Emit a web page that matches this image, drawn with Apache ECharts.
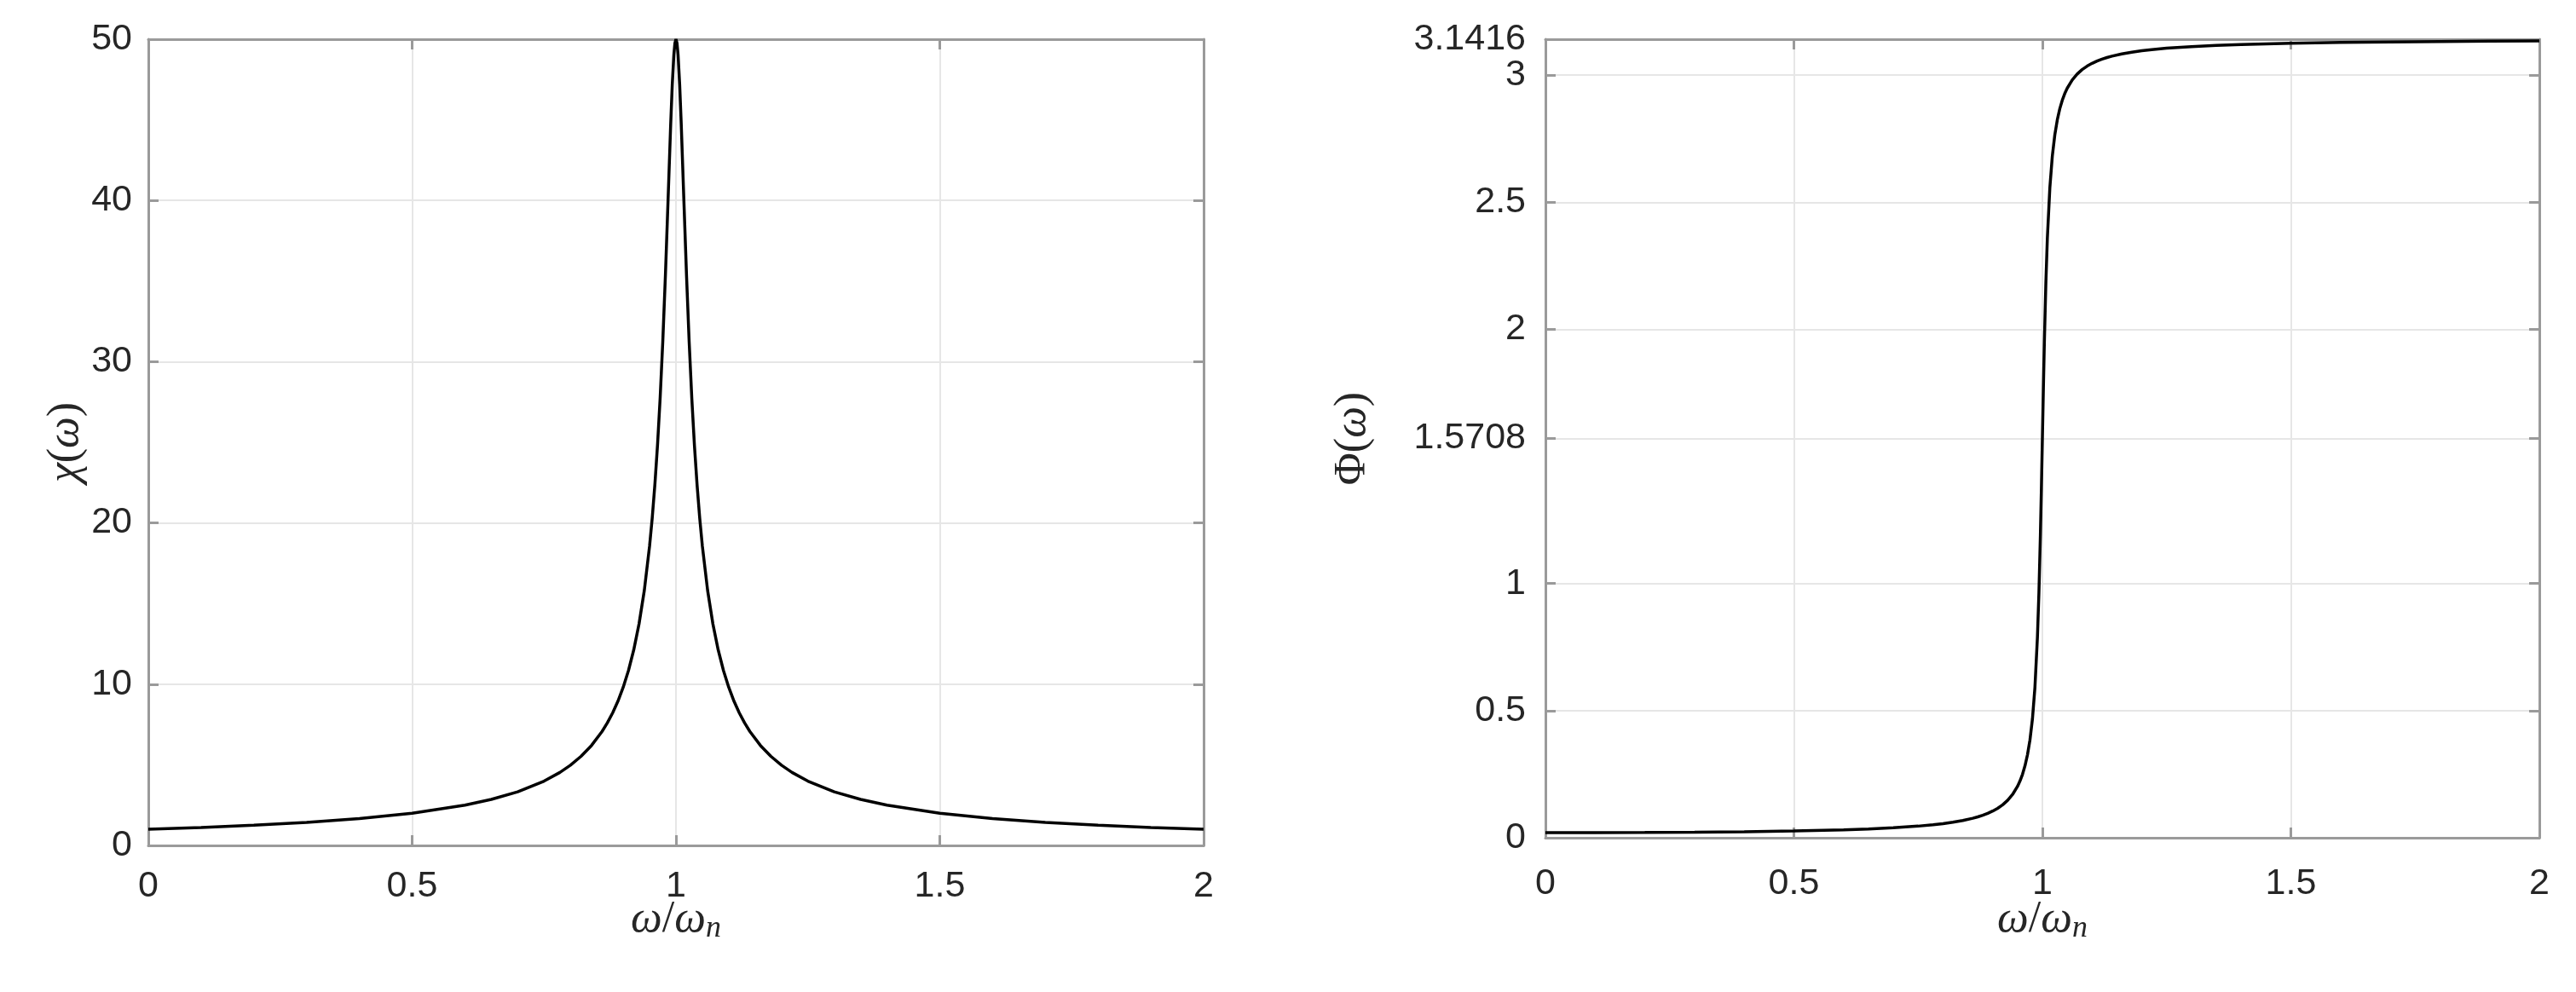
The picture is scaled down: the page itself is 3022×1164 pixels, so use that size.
<!DOCTYPE html>
<html>
<head>
<meta charset="utf-8">
<script src="https://cdn.jsdelivr.net/npm/echarts@6/dist/echarts.min.js"></script>
<style>
html,body{margin:0;padding:0;background:#fff;}
#c{width:3022px;height:1164px;}
</style>
</head>
<body>
<div id="c"></div>
<script>
// frequency ratio omega/omega_n
const ratio = [0, 0.1, 0.2, 0.3, 0.4, 0.5, 0.6, 0.65, 0.7, 0.75, 0.78, 0.8, 0.82, 0.84, 0.86, 0.87, 0.88, 0.89, 0.9, 0.91, 0.92, 0.93, 0.94, 0.95, 0.955, 0.96, 0.965, 0.97, 0.975, 0.98, 0.985, 0.99, 0.993, 0.996, 0.998,
  1,
  1.002, 1.004, 1.007, 1.01, 1.015, 1.02, 1.025, 1.03, 1.035, 1.04, 1.045, 1.05, 1.06, 1.07, 1.08, 1.09, 1.1, 1.11, 1.12, 1.13, 1.14, 1.16, 1.18, 1.2, 1.22, 1.25, 1.3, 1.35, 1.4, 1.5, 1.6, 1.7, 1.8, 1.9, 2.0];
// amplitude chi(omega)
const chi = [0.9998, 1.1108, 1.2496, 1.4280, 1.6657, 1.9984, 2.4969, 2.8525, 3.3260, 3.9873, 4.5268, 4.9752, 5.5216, 6.2017, 7.0711, 7.6029, 8.2199, 8.9443, 9.8058, 10.847, 12.127, 13.736, 15.811, 18.570, 20.307, 22.361, 24.807, 27.735, 31.235, 35.355, 40.0, 44.721, 47.193, 49.029, 49.752,
  50,
  49.752, 49.029, 47.193, 44.721, 40.0, 35.355, 31.235, 27.735, 24.807, 22.361, 20.307, 18.570, 15.811, 13.736, 12.127, 10.847, 9.8058, 8.9443, 8.2199, 7.6029, 7.0711, 6.2017, 5.5216, 4.9752, 4.5268, 3.9873, 3.3260, 2.8525, 2.4969, 1.9984, 1.6657, 1.4280, 1.2496, 1.1108, 0.9998];
// phase Phi(omega)
const phi = [0.0200, 0.0202, 0.0208, 0.0220, 0.0238, 0.0267, 0.0312, 0.0346, 0.0392, 0.0457, 0.0510, 0.0555, 0.0610, 0.0678, 0.0767, 0.0821, 0.0884, 0.0959, 0.1049, 0.1158, 0.1295, 0.1470, 0.1702, 0.2023, 0.2235, 0.2497, 0.2830, 0.3265, 0.3850, 0.4676, 0.5917, 0.7879, 0.9617, 1.1910, 1.3736,
  1.5708,
  1.7684, 1.9520, 2.1831, 2.3587, 2.5569, 2.6819, 2.7655, 2.8242, 2.8679, 2.9013, 2.9276, 2.9489, 2.9812, 3.0044, 3.0220, 3.0357, 3.0466, 3.0556, 3.0631, 3.0695, 3.0749, 3.0838, 3.0907, 3.0962, 3.1007, 3.1061, 3.1126, 3.1173, 3.1208, 3.1256, 3.1288, 3.1310, 3.1327, 3.1339, 3.1349];
// tick labels
const xTicks = [0, 0.5, 1, 1.5, 2];
const chiTicks = [0, 10, 20, 30, 40, 50];
const phiTicks = [0, 0.5, 1, 1.5708, 2, 2.5, 3];
const phiTopTick = [3.1416];

const AX = '#9a9a9a', GRID = '#e6e6e6', TXT = '#262626';
const LBL = {fontFamily: 'Liberation Sans', fontSize: 43, lineHeight: 32, color: TXT};
const serif = 'Liberation Serif';
const nameRich = {
  i: {fontFamily: serif, fontStyle: 'italic', fontSize: 52, color: TXT},
  n: {fontFamily: serif, fontSize: 52, color: TXT},
  s: {fontFamily: serif, fontStyle: 'italic', fontSize: 36, color: TXT, verticalAlign: 'bottom', padding: [22, 0, 0, 0]}
};

function xMain(gi, margin, gap) {
  return {
    type: 'value', gridIndex: gi, position: 'bottom', min: 0, max: 2, interval: 0.5,
    name: '{i|ω}{n|/}{i|ω}{s|n}', nameLocation: 'middle', nameGap: gap, nameMoveOverlap: false,
    nameTextStyle: {rich: nameRich},
    axisLine: {show: true, onZero: false, lineStyle: {color: AX, width: 3}},
    axisTick: {show: true, inside: true, length: 12, customValues: xTicks, lineStyle: {color: AX, width: 3}},
    axisLabel: {show: true, margin: margin, customValues: xTicks, formatter: v => String(v), ...LBL, showMinLabel: true, showMaxLabel: true},
    splitLine: {show: true, lineStyle: {color: GRID, width: 2}}
  };
}
function xTop(gi) {
  return {
    type: 'value', gridIndex: gi, position: 'top', min: 0, max: 2, interval: 0.5,
    axisLine: {show: true, onZero: false, lineStyle: {color: AX, width: 3}},
    axisTick: {show: true, inside: true, length: 12, customValues: xTicks, lineStyle: {color: AX, width: 3}},
    axisLabel: {show: false}, splitLine: {show: false}
  };
}

const option = {
  animation: false,
  backgroundColor: '#fff',
  grid: [
    {left: 174, top: 46, width: 1238, height: 946},
    {left: 1813, top: 46, width: 1166, height: 937}
  ],
  xAxis: [xMain(0, 32, 58), xTop(0), xMain(1, 38, 67), xTop(1)],
  yAxis: [
    {
      type: 'value', gridIndex: 0, position: 'left', min: 0, max: 50, interval: 10,
      name: '{i|χ}{n|(}{i|ω}{n|)}', nameLocation: 'middle', nameGap: 70, nameRotate: 90,
      nameTextStyle: {rich: nameRich},
      axisLine: {show: true, onZero: false, lineStyle: {color: AX, width: 3}},
      axisTick: {show: true, inside: true, length: 12, customValues: chiTicks, lineStyle: {color: AX, width: 3}},
      axisLabel: {show: true, margin: 19, customValues: chiTicks, formatter: v => String(v), ...LBL, showMinLabel: true, showMaxLabel: true},
      splitLine: {show: true, lineStyle: {color: GRID, width: 2}}
    },
    {
      type: 'value', gridIndex: 0, position: 'right', min: 0, max: 50, interval: 10,
      axisLine: {show: true, onZero: false, lineStyle: {color: AX, width: 3}},
      axisTick: {show: true, inside: true, length: 12, customValues: chiTicks, lineStyle: {color: AX, width: 3}},
      axisLabel: {show: false}, splitLine: {show: false}
    },
    {
      type: 'value', gridIndex: 1, position: 'left', min: 0, max: 3.1416,
      name: '{n|Φ(}{i|ω}{n|)}', nameLocation: 'middle', nameGap: 200, nameRotate: 90,
      nameTextStyle: {rich: nameRich},
      axisLine: {show: true, onZero: false, lineStyle: {color: AX, width: 3}},
      axisTick: {show: true, inside: true, length: 12, customValues: phiTicks, lineStyle: {color: AX, width: 3}},
      axisLabel: {show: true, margin: 23, customValues: phiTicks, formatter: v => String(v), ...LBL, showMinLabel: true, showMaxLabel: true},
      splitLine: {show: true, lineStyle: {color: GRID, width: 2}}
    },
    {
      type: 'value', gridIndex: 1, position: 'right', min: 0, max: 3.1416,
      axisLine: {show: true, onZero: false, lineStyle: {color: AX, width: 3}},
      axisTick: {show: true, inside: true, length: 12, customValues: phiTicks, lineStyle: {color: AX, width: 3}},
      axisLabel: {show: false}, splitLine: {show: false}
    },
    {
      type: 'value', gridIndex: 1, position: 'left', min: 0, max: 3.1416,
      axisLine: {show: false}, axisTick: {show: false}, splitLine: {show: false},
      axisLabel: {show: true, margin: 23, customValues: phiTopTick, formatter: v => String(v), ...LBL, showMinLabel: true, showMaxLabel: true}
    }
  ],
  series: [
    {
      type: 'line', xAxisIndex: 0, yAxisIndex: 0, showSymbol: false, symbol: 'none',
      lineStyle: {color: '#000', width: 3.5},
      data: ratio.map((r, i) => [r, chi[i]])
    },
    {
      type: 'line', xAxisIndex: 2, yAxisIndex: 2, showSymbol: false, symbol: 'none',
      lineStyle: {color: '#000', width: 3.5},
      data: ratio.map((r, i) => [r, phi[i]])
    }
  ]
};
const chart = echarts.init(document.getElementById('c'), null, {renderer: 'canvas'});
chart.setOption(option);
</script>
</body>
</html>
